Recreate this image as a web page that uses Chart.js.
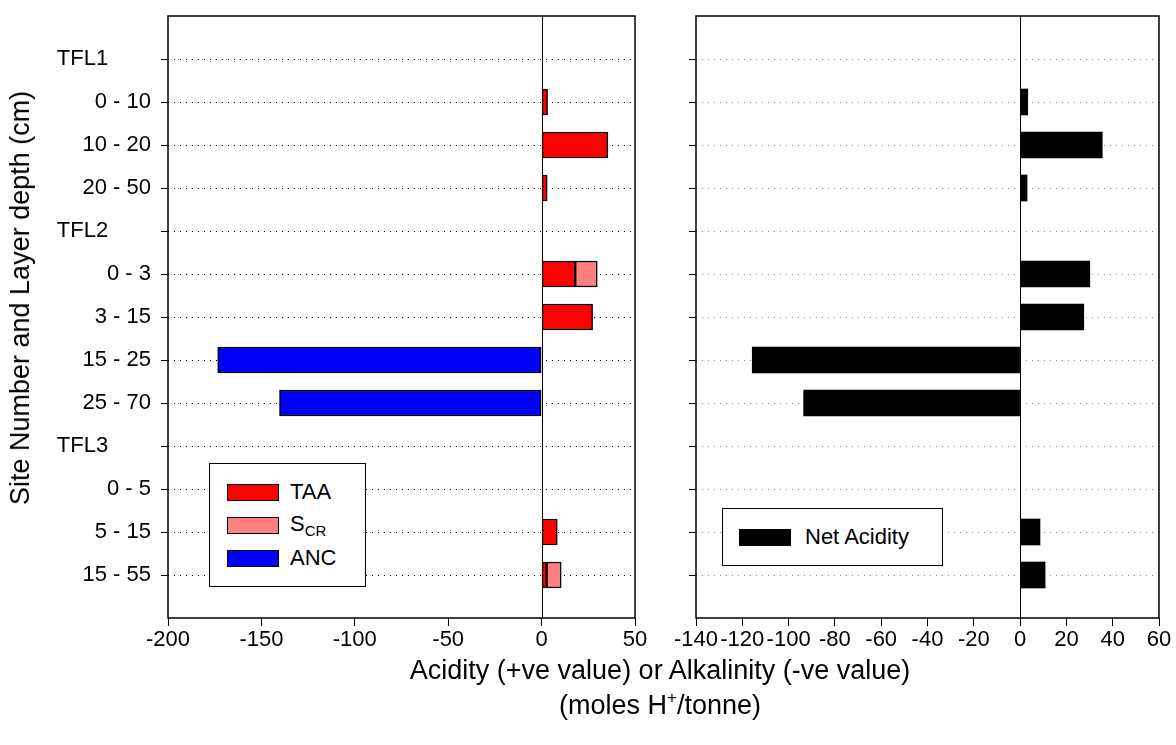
<!DOCTYPE html>
<html>
<head>
<meta charset="utf-8">
<script src="https://cdn.jsdelivr.net/npm/chart.js@4/dist/chart.umd.min.js"></script>
<style>
  body { margin: 0; background: #fff; width: 1176px; height: 745px; position: relative; overflow: hidden;
         font-family: "Liberation Sans", Arial, sans-serif; color: #000; }
  canvas { position: absolute; top: 0; }
  #left { left: 0; }
  #right { left: 660px; }
  .ytitle { position: absolute; left: 20px; top: 298px; transform: translate(-50%, -50%) rotate(-90deg);
            white-space: nowrap; font-size: 27px; line-height: 30px; }
  .xtitle { position: absolute; left: 660px; transform: translateX(-50%); white-space: nowrap; font-size: 27px; line-height: 30px; }
  .legend { position: absolute; border: 1px solid #000; background: #fff; box-sizing: border-box; }
  .item { position: absolute; font-size: 22px; line-height: 22px; white-space: nowrap; }
  .sw { position: absolute; width: 52px; height: 17px; box-sizing: border-box; border: 1.5px solid #000; }
  .item sub { font-size: 15px; position: relative; top: 5px; vertical-align: baseline; }
  .xtitle sup { font-size: 17px; position: relative; top: -11px; vertical-align: baseline; }
</style>
</head>
<body>
<canvas id="left" width="660" height="745"></canvas>
<canvas id="right" width="516" height="745"></canvas>

<div class="ytitle">Site Number and Layer depth (cm)</div>
<div class="xtitle" style="top:655px">Acidity (+ve value) or Alkalinity (-ve value)</div>
<div class="xtitle" style="top:690px">(moles H<sup>+</sup>/tonne)</div>

<div class="legend" style="left:209px; top:463px; width:157px; height:124px;">
  <div class="sw" style="left:17px; top:20px; background:#ff0000;"></div>
  <div class="item" style="left:80px; top:17px;">TAA</div>
  <div class="sw" style="left:17px; top:53px; background:#ff8080;"></div>
  <div class="item" style="left:80px; top:49px;">S<sub>CR</sub></div>
  <div class="sw" style="left:17px; top:86px; background:#0000ff;"></div>
  <div class="item" style="left:80px; top:83px;">ANC</div>
</div>

<div class="legend" style="left:722px; top:508px; width:221px; height:58px;">
  <div class="sw" style="left:16px; top:20px; background:#000; border-color:#000;"></div>
  <div class="item" style="left:82px; top:17px;">Net Acidity</div>
</div>

<script>
// Rows: site headers and layer depths (blank slots pad the top and bottom of the axis)
const rows = ['', 'TFL1', '0 - 10', '10 - 20', '20 - 50', 'TFL2', '0 - 3', '3 - 15',
              '15 - 25', '25 - 70', 'TFL3', '0 - 5', '5 - 15', '15 - 55', ''];

// Acid-base accounting components (moles H+/tonne)
const taa = [null, null, 3.2, 35.5, 3.0, null, 18.0, 27.3, null, null, null, null, 8.4, 2.7, null];
const scr = [null, null, null, null, null, null, 11.8, null, null, null, null, null, null, 7.8, null];
const anc = [null, null, null, null, null, null, null, null, -173.4, -140.3, null, null, null, null, null];

// Net acidity per layer
const netAcidity = [null, null, 3.3, 35.5, 3.0, null, 30.1, 27.5, -115.7, -93.5, null, null, 8.6, 10.8, null];

// Value-axis tick labels
const leftTicks = [-200, -150, -100, -50, 0, 50];
const rightTicks = [-140, -120, -100, -80, -60, -40, -20, 0, 20, 40, 60];

Chart.defaults.font.family = '"Liberation Sans", Arial, sans-serif';
Chart.defaults.font.size = 22;
Chart.defaults.color = '#000';

const PLOT_BOTTOM = 618;

// Box around the plot area plus the zero reference line
const framePlugin = {
  id: 'frame',
  afterDatasetsDraw(chart) {
    const { ctx, chartArea: a, scales: { x } } = chart;
    ctx.save();
    ctx.strokeStyle = '#000';
    ctx.lineWidth = 1;
    const zx = Math.round(x.getPixelForValue(0)) + 0.5;
    ctx.beginPath();
    ctx.moveTo(zx, a.top);
    ctx.lineTo(zx, a.bottom);
    ctx.stroke();
    ctx.lineWidth = 1.5;
    ctx.strokeRect(a.left, a.top, a.right - a.left, a.bottom - a.top);
    ctx.restore();
  }
};

// Site headers sit further left than the depth labels
const siteIndent = '       ';

function categoryAxis(showLabels, dotColor, width) {
  const edge = c => c.index === 0 || c.index === rows.length - 1;
  return {
    type: 'category',
    offset: false,
    stacked: true,
    grid: {
      offset: false,
      color: c => edge(c) ? 'rgba(0,0,0,0)' : dotColor,
      tickColor: c => edge(c) ? 'rgba(0,0,0,0)' : '#000',
      lineWidth: 1,
      tickLength: 7,
      tickWidth: 1,
      tickBorderDash: []
    },
    border: { display: false, dash: [1, 5] },
    ticks: {
      display: showLabels,
      autoSkip: false,
      padding: 10,
      callback: (v, i) => rows[i].startsWith('TFL') ? rows[i] + siteIndent : rows[i]
    },
    afterFit: s => { s.width = width; s.paddingTop = 0; s.paddingBottom = 0; }
  };
}

function valueAxis(ticks) {
  return {
    type: 'linear',
    stacked: true,
    min: ticks[0],
    max: ticks[ticks.length - 1],
    afterBuildTicks: s => { s.ticks = ticks.map(v => ({ value: v })); },
    grid: { drawOnChartArea: false, tickLength: 8, color: '#000', tickColor: '#000' },
    border: { display: false },
    ticks: { autoSkip: false, maxRotation: 0, minRotation: 0, padding: 1 },
    afterFit: s => { s.height = 745 - PLOT_BOTTOM; s.paddingLeft = 0; s.paddingRight = 0; }
  };
}

const barBase = { barThickness: 26, borderColor: '#000', borderWidth: 1.5, borderSkipped: false };

new Chart(document.getElementById('left'), {
  type: 'bar',
  data: {
    labels: rows,
    datasets: [
      { ...barBase, label: 'TAA', data: taa, backgroundColor: '#ff0000' },
      { ...barBase, label: 'SCR', data: scr, backgroundColor: '#ff8080' },
      { ...barBase, label: 'ANC', data: anc, backgroundColor: '#0000ff' }
    ]
  },
  options: {
    indexAxis: 'y',
    responsive: false,
    animation: false,
    layout: { padding: { top: 16, right: 25, left: 0, bottom: 0 } },
    plugins: { legend: { display: false }, tooltip: { enabled: false } },
    scales: { y: categoryAxis(true, '#000', 168), x: valueAxis(leftTicks) }
  },
  plugins: [framePlugin]
});

new Chart(document.getElementById('right'), {
  type: 'bar',
  data: {
    labels: rows,
    datasets: [
      { label: 'Net Acidity', data: netAcidity, backgroundColor: '#000', borderWidth: 0, barThickness: 26 }
    ]
  },
  options: {
    indexAxis: 'y',
    responsive: false,
    animation: false,
    layout: { padding: { top: 16, right: 17, left: 0, bottom: 0 } },
    plugins: { legend: { display: false }, tooltip: { enabled: false } },
    scales: { y: categoryAxis(false, '#888', 36), x: valueAxis(rightTicks) }
  },
  plugins: [framePlugin]
});
</script>
</body>
</html>
